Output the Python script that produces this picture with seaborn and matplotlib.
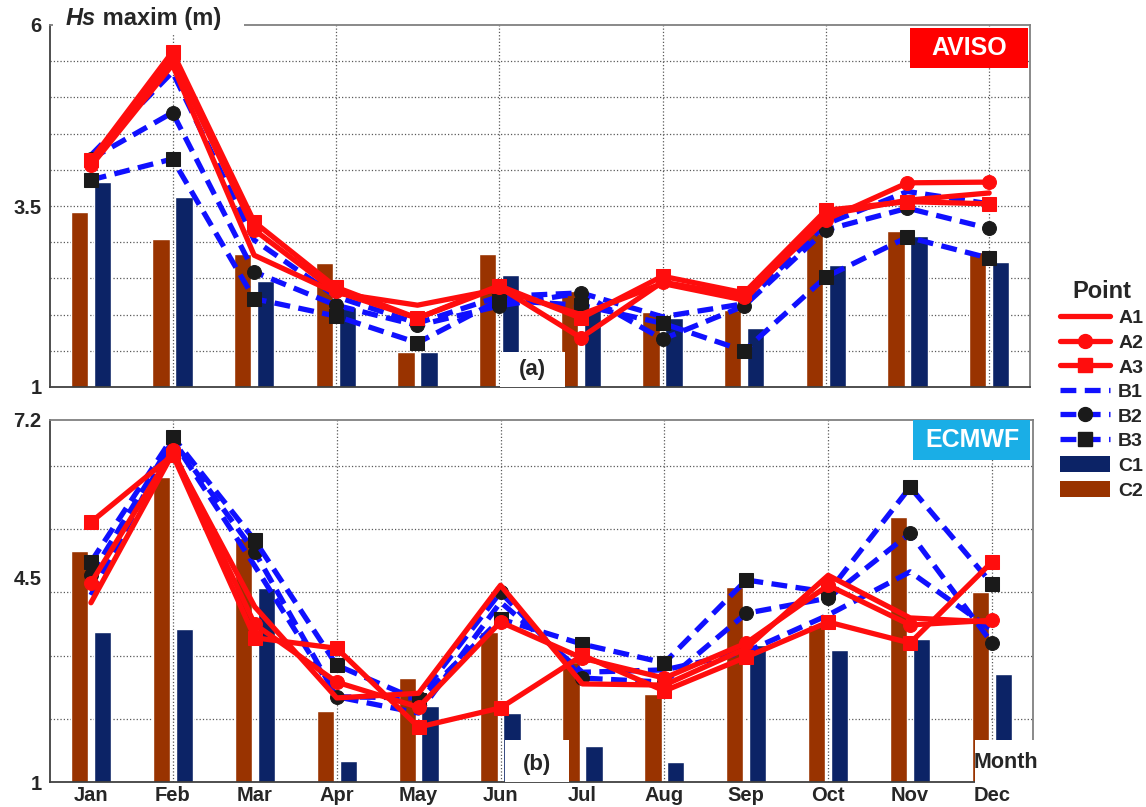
import numpy as np
import pandas as pd
import matplotlib
matplotlib.use("Agg")
import matplotlib.pyplot as plt
from matplotlib.lines import Line2D
from matplotlib.patches import Patch, Rectangle
import seaborn as sns

sns.set_theme(style="white")
plt.rcParams['font.family'] = ['Liberation Sans', 'DejaVu Sans']
plt.rcParams['font.weight'] = 'bold'

months = ['Jan', 'Feb', 'Mar', 'Apr', 'May', 'Jun', 'Jul', 'Aug', 'Sep', 'Oct', 'Nov', 'Dec']

# (a) AVISO
aviso_A1 = [4.05, 5.45, 2.82, 2.30, 2.13, 2.35, 2.00, 2.43, 2.20, 3.38, 3.58, 3.68]
aviso_A2 = [4.07, 5.54, 3.17, 2.32, 1.95, 2.38, 1.68, 2.45, 2.25, 3.31, 3.82, 3.83]
aviso_A3 = [4.13, 5.63, 3.28, 2.38, 1.95, 2.40, 1.95, 2.53, 2.30, 3.44, 3.56, 3.53]
aviso_B1 = [4.20, 5.35, 3.03, 2.25, 1.88, 2.25, 2.30, 1.97, 2.15, 3.25, 3.70, 3.53]
aviso_B2 = [4.15, 4.79, 2.59, 2.13, 1.85, 2.12, 2.30, 1.66, 2.12, 3.17, 3.47, 3.19]
aviso_B3 = [3.86, 4.15, 2.22, 1.98, 1.61, 2.20, 2.13, 1.88, 1.50, 2.52, 3.07, 2.78]
aviso_C1 = [3.83, 3.62, 2.46, 2.10, 1.48, 2.55, 2.09, 1.95, 1.81, 2.69, 3.08, 2.73]
aviso_C2 = [3.42, 3.04, 2.84, 2.71, 1.48, 2.84, 2.33, 2.04, 2.06, 3.13, 3.16, 2.87]

# (b) ECMWF
ecmwf_A1 = [4.07, 6.63, 4.00, 2.44, 2.52, 4.37, 2.68, 2.66, 3.29, 4.54, 3.81, 3.74]
ecmwf_A2 = [4.41, 6.68, 3.70, 2.71, 2.28, 3.74, 3.12, 2.78, 3.38, 4.37, 3.69, 3.77]
ecmwf_A3 = [5.45, 6.60, 3.47, 3.29, 1.94, 2.27, 3.17, 2.56, 3.14, 3.74, 3.38, 4.77]
ecmwf_B1 = [4.20, 6.85, 4.70, 2.46, 2.18, 4.08, 2.88, 2.92, 3.23, 3.86, 4.60, 3.60]
ecmwf_B2 = [4.54, 6.85, 4.94, 2.46, 2.44, 4.25, 2.78, 2.71, 3.89, 4.15, 5.26, 3.38]
ecmwf_B3 = [4.77, 6.91, 5.14, 3.00, 2.40, 3.79, 3.36, 3.04, 4.46, 4.25, 6.05, 4.39]
ecmwf_C1 = [3.57, 3.62, 4.32, 1.36, 2.30, 2.18, 1.62, 1.34, 3.35, 3.26, 3.45, 2.85]
ecmwf_C2 = [4.96, 6.22, 5.18, 2.22, 2.78, 3.57, 3.06, 2.51, 4.34, 3.69, 5.54, 4.25]

RED = '#ff0d0d'
BLUE = '#1010ff'
NAVY = '#0c2366'
BROWN = '#993300'
LW = 3.8
DASH = (0, (3.0, 1.6))

styles = {
    'A1': dict(color=RED, ls='-'),
    'A2': dict(color=RED, ls='-', marker='o', ms=10, mfc=RED, mec=RED),
    'A3': dict(color=RED, ls='-', marker='s', ms=10, mfc=RED, mec=RED),
    'B1': dict(color=BLUE, ls=DASH),
    'B2': dict(color=BLUE, ls=DASH, marker='o', ms=10, mfc='k', mec='k'),
    'B3': dict(color=BLUE, ls=DASH, marker='s', ms=10, mfc='k', mec='k'),
}

fig = plt.figure(figsize=(11.46, 8.07), dpi=100)
ax1 = fig.add_axes([50 / 1146, 1 - 387 / 807, 980 / 1146, 362 / 807])
ax2 = fig.add_axes([50 / 1146, 1 - 782 / 807, 983 / 1146, 362 / 807])


def white_box(ax, x0, x1, y0, y1, color='white'):
    ax.add_patch(Rectangle((x0, y0), x1 - x0, y1 - y0, transform=ax.transAxes,
                           fc=color, ec='none', zorder=5, clip_on=False))


def draw_panel(ax, lines, c1, c2, ylim, yticks, hgrid):
    bars = pd.DataFrame({'month': months * 2, 'Hs': c2 + c1,
                         'pt': ['C2'] * 12 + ['C1'] * 12})
    sns.barplot(data=bars, x='month', y='Hs', hue='pt', hue_order=['C2', 'C1'],
                palette={'C2': BROWN, 'C1': NAVY}, width=0.56, gap=0.25,
                saturation=1, errorbar=None, legend=False, ax=ax, zorder=2)
    for h in hgrid:
        ax.axhline(h, color='0.35', ls=':', lw=0.9, zorder=1)
    for v in range(1, 12, 2):
        ax.axvline(v, color='0.35', ls=':', lw=0.9, zorder=1)
    x = np.arange(12)
    for name in ['B1', 'B2', 'B3', 'A1', 'A2', 'A3']:
        sns.lineplot(x=x, y=lines[name], ax=ax, lw=LW, zorder=3, **styles[name])
    ax.set_xlim(-0.5, 11.5)
    ax.set_ylim(*ylim)
    ax.set_yticks(yticks)
    ax.set_yticklabels([('%g' % t) for t in yticks], fontsize=14.5, fontweight='bold')
    ax.set_xlabel('')
    ax.set_ylabel('')
    ax.tick_params(length=0, pad=6)
    for s in ['left', 'bottom']:
        ax.spines[s].set_color('#404040')
        ax.spines[s].set_linewidth(1.3)
    for s in ['top', 'right']:
        ax.spines[s].set_color('#808080')
        ax.spines[s].set_linewidth(1.3)


draw_panel(ax1, {'A1': aviso_A1, 'A2': aviso_A2, 'A3': aviso_A3,
                 'B1': aviso_B1, 'B2': aviso_B2, 'B3': aviso_B3},
           aviso_C1, aviso_C2, (1, 6), [1, 3.5, 6], np.arange(1.5, 5.6, 0.5))
draw_panel(ax2, {'A1': ecmwf_A1, 'A2': ecmwf_A2, 'A3': ecmwf_A3,
                 'B1': ecmwf_B1, 'B2': ecmwf_B2, 'B3': ecmwf_B3},
           ecmwf_C1, ecmwf_C2, (1, 7.2), [1, 4.5, 7.2], 1 + 1.083 * np.arange(1, 7))

ax1.set_xticklabels([])
ax2.set_xticks(range(12))
ax2.set_xticklabels(months, fontsize=14.5, fontweight='bold')
ax2.tick_params(axis='x', pad=3)

# title of the y quantity, over a blank strip of the top spine
white_box(ax1, 0.003, 0.198, 0.975, 1.03)
t1 = ax1.text(0.016, 1.018, 'Hs', transform=ax1.transAxes, fontsize=17,
              fontweight='bold', fontstyle='italic', va='center', ha='left',
              zorder=6)
ax1.annotate(' maxim (m)', xy=(1, 0.5), xycoords=t1, va='center', ha='left',
             fontsize=17, fontweight='bold', zorder=6)

# source boxes
white_box(ax1, 0.878, 0.998, 0.881, 0.992, color='#ff0000')
ax1.text(0.938, 0.936, 'AVISO', transform=ax1.transAxes, ha='center', va='center',
         fontsize=18, fontweight='bold', color='white', zorder=6)
white_box(ax2, 0.878, 0.997, 0.89, 1.0, color='#1aaee6')
ax2.text(0.938, 0.945, 'ECMWF', transform=ax2.transAxes, ha='center', va='center',
         fontsize=18, fontweight='bold', color='white', zorder=6)

# panel labels and axis name on white patches
white_box(ax1, 0.459, 0.526, 0.0, 0.097)
ax1.text(0.492, 0.02, '(a)', transform=ax1.transAxes, ha='center', va='bottom',
         fontsize=16, fontweight='bold', zorder=6)
white_box(ax2, 0.463, 0.528, 0.0, 0.116)
ax2.text(0.495, 0.02, '(b)', transform=ax2.transAxes, ha='center', va='bottom',
         fontsize=16, fontweight='bold', zorder=6)
white_box(ax2, 0.941, 1.012, -0.004, 0.116)
ax2.text(0.972, 0.055, 'Month', transform=ax2.transAxes, ha='center', va='center',
         fontsize=15.5, fontweight='bold', zorder=6, clip_on=False)

handles = []
for name in ['A1', 'A2', 'A3', 'B1', 'B2', 'B3']:
    handles.append(Line2D([], [], lw=LW, **styles[name]))
handles.append(Patch(fc=NAVY, ec='none'))
handles.append(Patch(fc=BROWN, ec='none'))
leg = fig.legend(handles, ['A1', 'A2', 'A3', 'B1', 'B2', 'B3', 'C1', 'C2'],
                 loc='upper left', bbox_to_anchor=(1052 / 1146, 1 - 272 / 807),
                 frameon=False, fontsize=14, title='Point', handlelength=2.6,
                 handleheight=0.9, handletextpad=0.4, labelspacing=0.3,
                 borderaxespad=0)
leg.get_title().set_fontsize(17)
leg.get_title().set_fontweight('bold')
for t in leg.get_texts():
    t.set_fontweight('bold')

fig.savefig('out.png', dpi=100)
